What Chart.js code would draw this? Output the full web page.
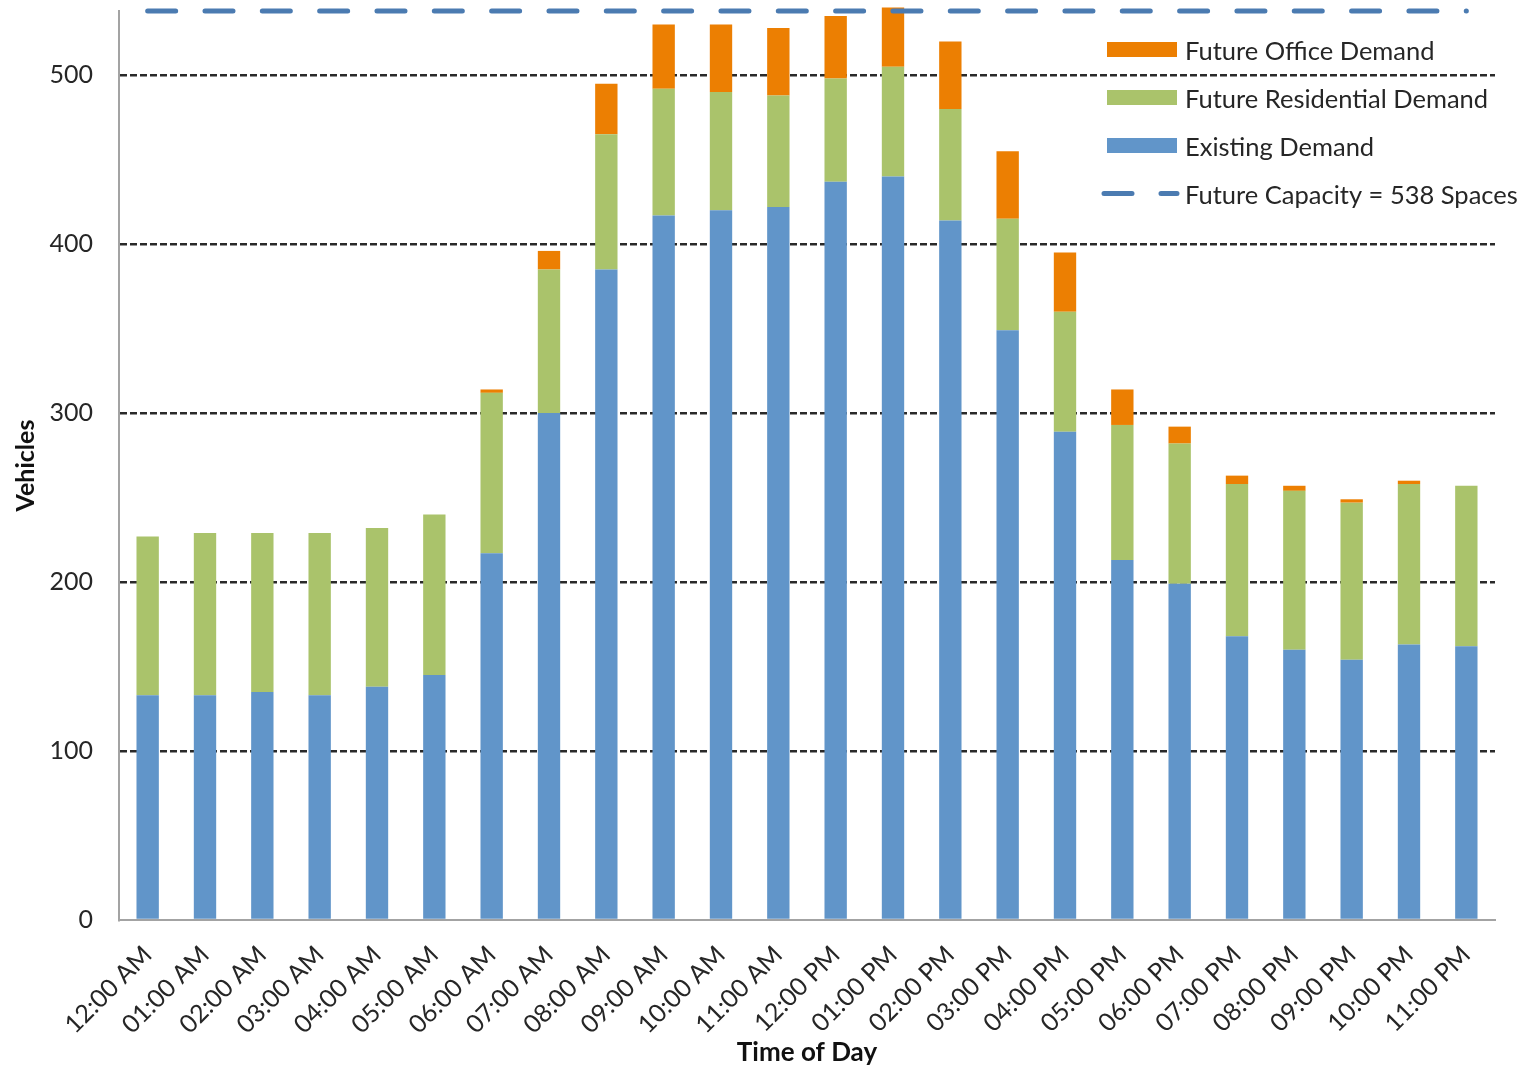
<!DOCTYPE html>
<html>
<head>
<meta charset="utf-8">
<title>Parking Demand by Time of Day</title>
<script src="https://cdn.jsdelivr.net/npm/chart.js@4.4.1/dist/chart.umd.min.js"></script>
<style>
  html, body { margin: 0; padding: 0; background: #ffffff; }
  #wrap { width: 1531px; height: 1070px; }
</style>
</head>
<body>
<div id="wrap"><canvas id="chart" width="1531" height="1070"></canvas></div>
<script>
// Hourly parking demand (vehicles)
const hours = [
  "12:00 AM", "01:00 AM", "02:00 AM", "03:00 AM", "04:00 AM", "05:00 AM",
  "06:00 AM", "07:00 AM", "08:00 AM", "09:00 AM", "10:00 AM", "11:00 AM",
  "12:00 PM", "01:00 PM", "02:00 PM", "03:00 PM", "04:00 PM", "05:00 PM",
  "06:00 PM", "07:00 PM", "08:00 PM", "09:00 PM", "10:00 PM", "11:00 PM"
];
const existingDemand = [133, 133, 135, 133, 138, 145, 217, 300, 385, 417, 420, 422,
                        437, 440, 414, 349, 289, 213, 199, 168, 160, 154, 163, 162];
const residentialDemand = [94, 96, 94, 96, 94, 95, 95, 85, 80, 75, 70, 66,
                           61, 65, 66, 66, 71, 80, 83, 90, 94, 93, 95, 95];
const officeDemand = [0, 0, 0, 0, 0, 0, 2, 11, 30, 38, 40, 40,
                      37, 35, 40, 40, 35, 21, 10, 5, 3, 2, 2, 0];
const futureCapacity = 538;
const capacityLine = hours.map(() => futureCapacity);
const yTicks = [0, 100, 200, 300, 400, 500];
const yMax = 538;

const COLORS = {
  existing: '#6195c9',
  residential: '#aac36b',
  office: '#ec7f02',
  capacity: '#4b7bb1',
  grid: '#2a2a2a',
  axis: '#a3a3a3',
  text: '#262626'
};

Chart.defaults.font.family = 'Lato, "Open Sans", sans-serif';

// Legend drawn inside the plot, upper right
const insideLegend = {
  id: 'insideLegend',
  afterDatasetsDraw(chart) {
    const ctx = chart.ctx;
    const area = chart.chartArea;
    const order = ['Future Office Demand', 'Future Residential Demand', 'Existing Demand', 'Future Capacity = 538 Spaces'];
    const x0 = area.right - 388;
    const y0 = area.top + 38.5;
    const rowGap = 48;
    ctx.save();
    order.forEach((label, i) => {
      const ds = chart.data.datasets.find(d => d.label === label);
      const cy = y0 + i * rowGap;
      if (ds.type === 'line') {
        ctx.strokeStyle = ds.borderColor;
        ctx.lineWidth = 5;
        ctx.lineCap = 'round';
        ctx.setLineDash([28, 29]);
        ctx.beginPath();
        ctx.moveTo(x0 - 3, cy);
        ctx.lineTo(x0 + 70, cy);
        ctx.stroke();
        ctx.setLineDash([]);
      } else {
        ctx.fillStyle = ds.backgroundColor;
        ctx.fillRect(x0, cy - 7.5, 70, 15);
      }
      ctx.fillStyle = COLORS.text;
      ctx.font = '25.5px Lato, "Open Sans", sans-serif';
      ctx.textAlign = 'left';
      ctx.textBaseline = 'middle';
      ctx.fillText(label, x0 + 78, cy + 2);
    });
    ctx.restore();
  }
};

new Chart(document.getElementById('chart'), {
  data: {
    labels: hours,
    datasets: [
      {
        type: 'line',
        label: 'Future Capacity = 538 Spaces',
        data: capacityLine,
        stack: 'capacity',
        borderColor: COLORS.capacity,
        borderWidth: 5,
        borderDash: [28, 29.33],
        borderCapStyle: 'round',
        pointRadius: 0,
        fill: false,
        clip: false,
        order: 0
      },
      {
        type: 'bar',
        label: 'Existing Demand',
        data: existingDemand,
        stack: 'demand',
        backgroundColor: COLORS.existing,
        borderWidth: 0,
        clip: false,
        order: 1
      },
      {
        type: 'bar',
        label: 'Future Residential Demand',
        data: residentialDemand,
        stack: 'demand',
        backgroundColor: COLORS.residential,
        borderWidth: 0,
        clip: false,
        order: 1
      },
      {
        type: 'bar',
        label: 'Future Office Demand',
        data: officeDemand,
        stack: 'demand',
        backgroundColor: COLORS.office,
        borderWidth: 0,
        clip: false,
        order: 1
      }
    ]
  },
  options: {
    responsive: false,
    animation: false,
    devicePixelRatio: 1,
    layout: { padding: { top: 11, right: 36, left: 0, bottom: 0 } },
    datasets: { bar: { categoryPercentage: 1.0, barPercentage: 0.39 } },
    plugins: {
      legend: { display: false },
      tooltip: { enabled: false }
    },
    scales: {
      x: {
        stacked: true,
        afterFit(scale) { scale.height = 150; scale.paddingLeft = 0; scale.paddingRight = 0; },
        grid: { display: false, drawTicks: false },
        border: { display: true, color: COLORS.axis, width: 2 },
        ticks: {
          autoSkip: false,
          minRotation: 45,
          maxRotation: 45,
          padding: 20,
          color: COLORS.text,
          font: { size: 25 }
        },
        title: {
          display: true,
          text: 'Time of Day',
          color: '#111111',
          font: { size: 26, weight: 'bold' },
          padding: { top: 0, bottom: 2 }
        }
      },
      y: {
        stacked: true,
        min: 0,
        max: yMax,
        afterFit(scale) { scale.width = 119; scale.paddingTop = 0; scale.paddingBottom = 0; },
        afterBuildTicks(scale) {
          scale.ticks = yTicks.map(v => ({ value: v }));
        },
        grid: {
          color: c => (c.tick && c.tick.value === 0) ? 'rgba(0,0,0,0)' : COLORS.grid,
          lineWidth: 2.5,
          drawTicks: false
        },
        border: { display: true, color: COLORS.axis, width: 2, dash: [7, 3] },
        ticks: {
          padding: 26,
          color: COLORS.text,
          font: { size: 25 }
        },
        title: {
          display: true,
          text: 'Vehicles',
          color: '#111111',
          font: { size: 25, weight: 'bold' },
          padding: { top: 11, bottom: 0 }
        }
      }
    }
  },
  plugins: [insideLegend]
});
</script>
</body>
</html>
